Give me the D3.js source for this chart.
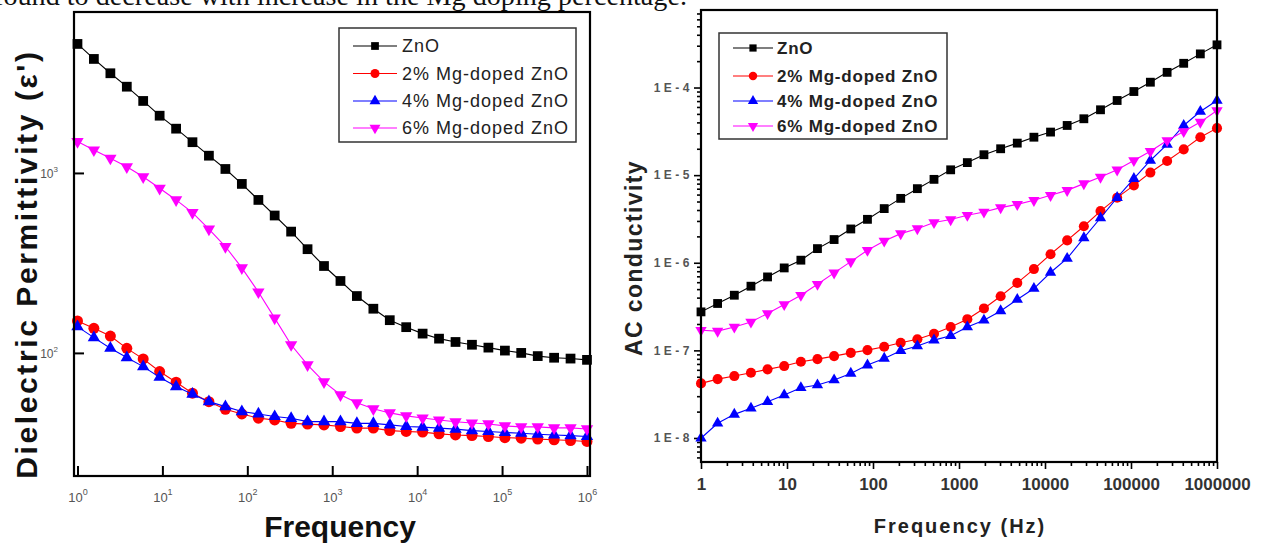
<!DOCTYPE html>
<html>
<head>
<meta charset="utf-8">
<script src="https://cdn.jsdelivr.net/npm/d3@7/dist/d3.min.js"></script>
<style>
  html, body { margin: 0; padding: 0; background: #fff; }
  svg { display: block; }
</style>
</head>
<body>
<svg id="chart" width="1263" height="543"></svg>
<script>
// Frequency sweep (Hz), shared by both panels
const freq = [1, 1.56, 2.44, 3.81, 5.94, 9.28, 14.5, 22.6, 35.3, 55.2, 86.2, 135, 210, 328, 512, 800,
  1250, 1950, 3050, 4760, 7430, 11600, 18100, 28300, 44200, 69000, 108000, 168000, 263000, 410000, 640000, 1000000];

// Series names
const seriesNames = ["ZnO", "2% Mg-doped ZnO", "4% Mg-doped ZnO", "6% Mg-doped ZnO"];

// Dielectric permittivity (real part)
const epsZnO = [5210, 4300, 3580, 3015, 2512, 2080, 1762, 1482, 1247, 1052, 869, 708, 580, 472, 377, 304,
  251, 207, 176, 152, 139, 128, 120, 115, 111, 107, 103, 100, 96, 94, 93, 91.5];
const epsMg2 = [150.6, 137, 124, 106, 92.6, 78.8, 68.7, 59.7, 53.6, 48.6, 45.8, 43.4, 42.4, 40.6, 40.2, 39.8,
  39.0, 38.2, 38.2, 37.0, 36.6, 36.3, 35.5, 35.0, 34.7, 34.3, 33.8, 33.6, 33.2, 32.9, 32.6, 32.2];
const epsMg4 = [140, 121.6, 106.2, 94.2, 83.9, 73.3, 65.0, 59.0, 53.6, 50.3, 47.2, 45.8, 44.3, 43.3, 41.5, 41.5,
  41.5, 40.6, 40.6, 39.8, 39.0, 38.7, 38.2, 37.7, 37.0, 36.6, 36.1, 35.8, 35.3, 35.0, 34.7, 34.3];
const epsMg6 = [1494, 1342, 1207, 1082, 952, 822, 708, 602, 488, 390, 297, 218, 156, 111, 85.8, 69,
  58.5, 52.8, 48.9, 46.4, 44.7, 43.5, 42.4, 41.4, 40.8, 40.3, 39.3, 38.8, 38.8, 38.3, 38.3, 37.8];

// AC conductivity
const sigZnO = [2.75e-7, 3.43e-7, 4.26e-7, 5.40e-7, 6.89e-7, 8.73e-7, 1.07e-6, 1.45e-6, 1.84e-6, 2.43e-6, 3.13e-6,
  4.15e-6, 5.43e-6, 7.01e-6, 8.95e-6, 1.15e-5, 1.39e-5, 1.71e-5, 2.00e-5, 2.32e-5, 2.71e-5, 3.10e-5, 3.69e-5,
  4.40e-5, 5.57e-5, 7.11e-5, 9.00e-5, 1.15e-4, 1.49e-4, 1.89e-4, 2.42e-4, 3.07e-4];
const sigMg2 = [4.20e-8, 4.70e-8, 5.09e-8, 5.55e-8, 6.07e-8, 6.62e-8, 7.41e-8, 7.95e-8, 8.60e-8, 9.37e-8, 1.007e-7,
  1.10e-7, 1.22e-7, 1.34e-7, 1.55e-7, 1.85e-7, 2.27e-7, 3.01e-7, 4.15e-7, 5.89e-7, 8.47e-7, 1.25e-6, 1.80e-6,
  2.61e-6, 3.89e-6, 5.53e-6, 7.64e-6, 1.07e-5, 1.45e-5, 1.97e-5, 2.71e-5, 3.44e-5];
const sigMg4 = [9.93e-9, 1.47e-8, 1.86e-8, 2.18e-8, 2.59e-8, 3.09e-8, 3.74e-8, 4.02e-8, 4.58e-8, 5.46e-8, 6.79e-8,
  8.09e-8, 9.88e-8, 1.12e-7, 1.31e-7, 1.47e-7, 1.85e-7, 2.21e-7, 2.82e-7, 3.81e-7, 5.08e-7, 7.74e-7, 1.12e-6,
  1.92e-6, 3.24e-6, 5.53e-6, 9.12e-6, 1.47e-5, 2.24e-5, 3.69e-5, 5.32e-5, 7.11e-5];
const sigMg6 = [1.70e-7, 1.66e-7, 1.85e-7, 2.11e-7, 2.64e-7, 3.34e-7, 4.26e-7, 5.69e-7, 7.66e-7, 1.03e-6, 1.39e-6,
  1.77e-6, 2.15e-6, 2.45e-6, 2.88e-6, 3.11e-6, 3.48e-6, 3.79e-6, 4.26e-6, 4.64e-6, 5.16e-6, 5.88e-6, 6.70e-6,
  8.0e-6, 9.5e-6, 1.15e-5, 1.47e-5, 1.87e-5, 2.49e-5, 3.15e-5, 4.03e-5, 5.47e-5];

// Tick values and labels
const epsXTicks = [1, 10, 100, 1000, 10000, 100000, 1000000];
const epsXExponents = ["0", "1", "2", "3", "4", "5", "6"];
const epsYTicks = [100, 1000];
const epsYExponents = ["2", "3"];
const sigXTicks = [1, 10, 100, 1000, 10000, 100000, 1000000];
const sigXLabels = ["1", "10", "100", "1000", "10000", "100000", "1000000"];
const sigYTicks = [1e-8, 1e-7, 1e-6, 1e-5, 1e-4];
const sigYLabels = ["1E-8", "1E-7", "1E-6", "1E-5", "1E-4"];

const colors = ["#000000", "#ff0000", "#0000ff", "#ff00ff"];
const downTriangle = {
  draw(ctx, size) {
    const y = -Math.sqrt(size / (Math.sqrt(3) * 3));
    ctx.moveTo(0, -y * 2);
    ctx.lineTo(-Math.sqrt(3) * y, y);
    ctx.lineTo(Math.sqrt(3) * y, y);
    ctx.closePath();
  }
};
const symbolTypes = [d3.symbolSquare, d3.symbolCircle, d3.symbolTriangle, downTriangle];

const svg = d3.select("#chart");

// Running text of the page above the figure (clipped by the top edge)
svg.append("text")
  .attr("x", -6).attr("y", 5)
  .attr("textLength", 693).attr("lengthAdjust", "spacingAndGlyphs")
  .style("font-family", "'Liberation Serif', 'DejaVu Serif', serif")
  .style("font-size", "27px").attr("fill", "#111")
  .text("found to decrease with increase in the Mg doping percentage.");

function drawSeries(g, x, y, data, sizes) {
  data.forEach((vals, i) => {
    const pts = freq.map((f, k) => [f, vals[k]]);
    g.append("path")
      .datum(pts)
      .attr("fill", "none")
      .attr("stroke", colors[i])
      .attr("stroke-width", 1.1)
      .attr("d", d3.line().x(d => x(d[0])).y(d => y(d[1])));
    g.selectAll(null)
      .data(pts)
      .join("path")
      .attr("transform", d => `translate(${x(d[0])},${y(d[1])})`)
      .attr("fill", colors[i])
      .attr("d", d3.symbol().type(symbolTypes[i]).size(sizes[i]));
  });
}

function drawLegend(g, box, rows, lineX, textX, sizes, textStyle) {
  g.append("rect")
    .attr("x", box[0]).attr("y", box[1])
    .attr("width", box[2]).attr("height", box[3])
    .attr("fill", "#fff").attr("stroke", "#333").attr("stroke-width", 1.5);
  seriesNames.forEach((name, i) => {
    const yy = rows[i];
    g.append("line")
      .attr("x1", lineX[0]).attr("x2", lineX[1])
      .attr("y1", yy).attr("y2", yy)
      .attr("stroke", colors[i]).attr("stroke-width", 1.1);
    g.append("path")
      .attr("transform", `translate(${(lineX[0] + lineX[1]) / 2},${yy})`)
      .attr("fill", colors[i])
      .attr("d", d3.symbol().type(symbolTypes[i]).size(sizes[i]));
    const t = g.append("text")
      .attr("x", textX).attr("y", yy)
      .attr("dy", "0.36em")
      .text(name);
    Object.entries(textStyle).forEach(([k, v]) => t.style(k, v));
  });
}

// ---------- Left panel: dielectric permittivity ----------
{
  const L = 74, R = 590, T = 12, B = 476;
  const x = d3.scaleLog().domain([0.91, 1.085e6]).range([L, R]);
  const y = d3.scaleLog().domain([20.7, 7840]).range([B, T]);
  const g = svg.append("g");

  // inward ticks, major only
  const xAxis = g.append("g").attr("transform", `translate(0,${B})`)
    .call(d3.axisBottom(x).tickValues(epsXTicks).tickSize(-10).tickPadding(12).tickFormat(() => ""));
  const yAxis = g.append("g").attr("transform", `translate(${L},0)`)
    .call(d3.axisLeft(y).tickValues(epsYTicks).tickSize(-10).tickPadding(18).tickFormat(() => ""));
  [xAxis, yAxis].forEach(a => {
    a.select(".domain").remove();
    a.selectAll(".tick line").attr("stroke", "#000").attr("stroke-width", 2);
  });

  xAxis.selectAll(".tick text").each(function(d, i) {
    const t = d3.select(this)
      .attr("y", 26).attr("dy", 0)
      .style("font-family", "'Liberation Sans', Arial, sans-serif")
      .style("font-size", "13px").attr("fill", "#555");
    t.append("tspan").text("10");
    t.append("tspan").attr("dy", -7).style("font-size", "9px").text(epsXExponents[i]);
  });
  yAxis.selectAll(".tick text").each(function(d, i) {
    const t = d3.select(this)
      .attr("x", -16).attr("dy", "0.35em")
      .style("font-family", "'Liberation Sans', Arial, sans-serif")
      .style("font-size", "12px").attr("fill", "#555");
    t.append("tspan").text("10");
    t.append("tspan").attr("dy", -6).style("font-size", "8px").text(epsYExponents[i]);
  });

  const plot = g.append("g");
  drawSeries(plot, x, y, [epsZnO, epsMg2, epsMg4, epsMg6], [95, 95, 66, 66]);

  g.append("rect").attr("x", L).attr("y", T).attr("width", R - L).attr("height", B - T)
    .attr("fill", "none").attr("stroke", "#000").attr("stroke-width", 2.2);

  drawLegend(g, [339, 28, 237, 114], [46, 73.5, 101, 128], [353, 397], 402, [60, 64, 52, 52], {
    "font-family": "'Liberation Sans', Arial, sans-serif",
    "font-size": "18px",
    "letter-spacing": "1px",
    "fill": "#222"
  });

  g.append("text")
    .attr("x", 340).attr("y", 537)
    .attr("text-anchor", "middle")
    .style("font-family", "'Liberation Sans', Arial, sans-serif")
    .style("font-size", "30px").style("font-weight", "bold").attr("fill", "#111")
    .text("Frequency");

  g.append("text")
    .attr("transform", "translate(37,264) rotate(-90)")
    .attr("text-anchor", "middle")
    .style("font-family", "'Liberation Sans', Arial, sans-serif")
    .style("font-size", "30px").style("font-weight", "bold")
    .style("letter-spacing", "2.6px").attr("fill", "#111")
    .text("Dielectric Permittivity (ε')");
}

// ---------- Right panel: AC conductivity ----------
{
  const L = 701, R = 1217, T = 10, B = 462;
  const x = d3.scaleLog().domain([1, 1e6]).range([L, R]);
  const y = d3.scaleLog().domain([5.32e-9, 7.67e-4]).range([B, T]);
  const g = svg.append("g");

  const minorX = x.ticks().filter(v => !sigXTicks.includes(v));
  const minorY = y.ticks().filter(v => !sigYTicks.some(m => Math.abs(m - v) / m < 1e-6));

  const ax = [];
  ax.push(g.append("g").attr("transform", `translate(0,${B})`)
    .call(d3.axisBottom(x).tickValues(minorX).tickSize(4).tickFormat(() => "")));
  ax.push(g.append("g").attr("transform", `translate(${L},0)`)
    .call(d3.axisLeft(y).tickValues(minorY).tickSize(4).tickFormat(() => "")));
  const xMaj = g.append("g").attr("transform", `translate(0,${B})`)
    .call(d3.axisBottom(x).tickValues(sigXTicks).tickSize(7).tickPadding(9)
      .tickFormat((d, i) => sigXLabels[i]));
  const yMaj = g.append("g").attr("transform", `translate(${L},0)`)
    .call(d3.axisLeft(y).tickValues(sigYTicks).tickSize(7).tickPadding(5)
      .tickFormat((d, i) => sigYLabels[i]));
  ax.push(xMaj, yMaj);
  ax.forEach(a => {
    a.select(".domain").remove();
    a.selectAll(".tick line").attr("stroke", "#000").attr("stroke-width", 1.6);
  });
  xMaj.selectAll(".tick text")
    .style("font-family", "'Liberation Sans', Arial, sans-serif")
    .style("font-size", "17px").style("font-weight", "bold").attr("fill", "#333");
  yMaj.selectAll(".tick text")
    .attr("x", -8)
    .style("font-family", "'Liberation Sans', Arial, sans-serif")
    .style("font-size", "12px").style("font-weight", "bold")
    .style("letter-spacing", "3.5px").attr("fill", "#555");

  const plot = g.append("g");
  drawSeries(plot, x, y, [sigZnO, sigMg2, sigMg4, sigMg6], [78, 80, 56, 56]);

  g.append("rect").attr("x", L).attr("y", T).attr("width", R - L).attr("height", B - T)
    .attr("fill", "none").attr("stroke", "#000").attr("stroke-width", 2.2);

  drawLegend(g, [719, 33, 228, 106], [48, 76, 101, 126], [733, 773], 777, [52, 56, 46, 46], {
    "font-family": "'Liberation Sans', Arial, sans-serif",
    "font-size": "17px",
    "font-weight": "bold",
    "letter-spacing": "0.8px",
    "fill": "#222"
  });

  g.append("text")
    .attr("x", 960).attr("y", 533)
    .attr("text-anchor", "middle")
    .style("font-family", "'Liberation Sans', Arial, sans-serif")
    .style("font-size", "20px").style("font-weight", "bold")
    .style("letter-spacing", "2px").attr("fill", "#222")
    .text("Frequency (Hz)");

  g.append("text")
    .attr("transform", "translate(642,258) rotate(-90)")
    .attr("text-anchor", "middle")
    .style("font-family", "'Liberation Sans', Arial, sans-serif")
    .style("font-size", "23px").style("font-weight", "bold")
    .style("letter-spacing", "1.4px").attr("fill", "#222")
    .text("AC conductivity");
}
</script>
</body>
</html>
